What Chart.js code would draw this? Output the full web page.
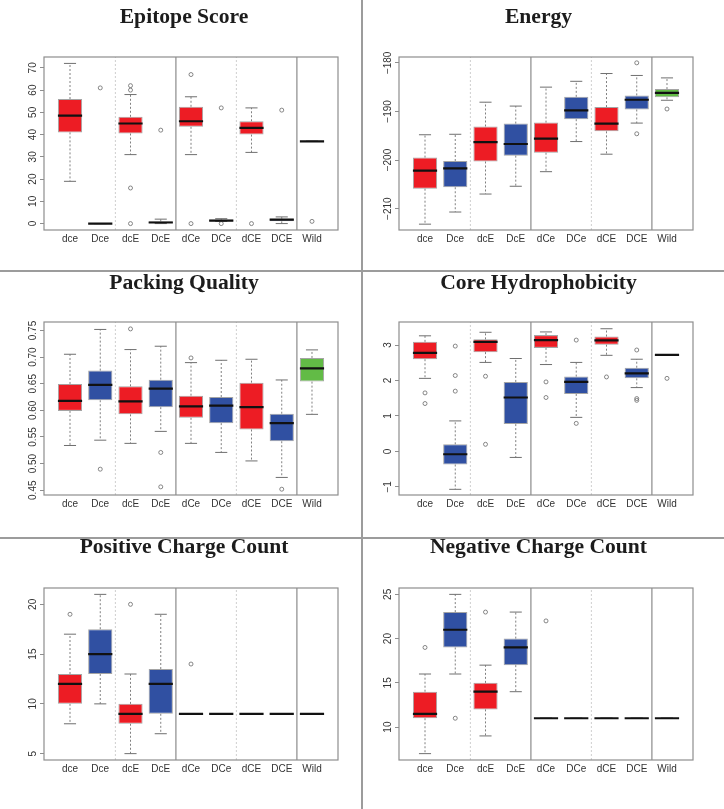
<!DOCTYPE html>
<html><head><meta charset="utf-8">
<script src="https://cdn.jsdelivr.net/npm/chart.js@4"></script>
<style>
html,body{margin:0;padding:0;background:#fff;}
#wrap{position:relative;width:724px;height:809px;overflow:hidden;background:#fff;}
.panel{position:absolute;}
.sep{position:absolute;background:#9c9c9c;}
</style></head><body>
<div id="wrap">
  <div class="panel" style="left:0;top:0;width:362px;height:270px"><canvas id="c1"></canvas></div>
  <div class="panel" style="left:362px;top:0;width:362px;height:270px"><canvas id="c2"></canvas></div>
  <div class="panel" style="left:0;top:271px;width:362px;height:266px"><canvas id="c3"></canvas></div>
  <div class="panel" style="left:362px;top:271px;width:362px;height:266px"><canvas id="c4"></canvas></div>
  <div class="panel" style="left:0;top:538px;width:362px;height:271px"><canvas id="c5"></canvas></div>
  <div class="panel" style="left:362px;top:538px;width:362px;height:271px"><canvas id="c6"></canvas></div>
  <div class="sep" style="left:361px;top:0;width:1.5px;height:809px"></div>
  <div class="sep" style="left:0;top:270px;width:724px;height:1.5px"></div>
  <div class="sep" style="left:0;top:537px;width:724px;height:1.5px"></div>
</div>
<script>
// ---------------- data ----------------
const categories = ['dce', 'Dce', 'dcE', 'DcE', 'dCe', 'DCe', 'dCE', 'DCE', 'Wild'];

const epitopeLow     = [19, 0, 31, 0, 31, 1, 32, 0, 37];
const epitopeQ1      = [41, 0, 40.5, 0, 43.5, 1, 40, 1, 37];
const epitopeMedian  = [48.5, 0, 45, 0.5, 46, 1.3, 43, 1.8, 37];
const epitopeQ3      = [56, 0, 48, 1, 52.5, 1.8, 46, 2.2, 37];
const epitopeHigh    = [72, 0, 58, 2, 57, 2.2, 52, 3, 37];
const epitopeOutliers = [[], [61], [62, 60, 16, 0], [42], [67, 0], [52, 0], [0], [51], [1]];
const epitopeTicks   = [0, 10, 20, 30, 40, 50, 60, 70];

const energyLow      = [-213.2, -210.7, -207.0, -205.4, -202.4, -196.2, -198.8, -192.4, -187.7];
const energyQ1       = [-205.9, -205.6, -200.3, -199.1, -198.5, -191.6, -194.1, -189.6, -187.1];
const energyMedian   = [-202.2, -201.7, -196.3, -196.7, -195.6, -189.8, -192.5, -187.6, -186.2];
const energyQ3       = [-199.5, -200.2, -193.1, -192.5, -192.3, -187.0, -189.1, -186.7, -185.4];
const energyHigh     = [-194.8, -194.7, -188.1, -188.9, -185.0, -183.8, -182.2, -182.6, -183.1];
const energyOutliers = [[], [], [], [], [], [], [], [-180.0, -194.6], [-189.5]];
const energyTicks    = [-210, -200, -190, -180];

const packingLow     = [0.534, 0.544, 0.538, 0.5605, 0.538, 0.521, 0.505, 0.474, 0.5925];
const packingQ1      = [0.599, 0.619, 0.5925, 0.606, 0.586, 0.576, 0.564, 0.542, 0.654];
const packingMedian  = [0.618, 0.648, 0.617, 0.641, 0.6075, 0.609, 0.606, 0.576, 0.679];
const packingQ3      = [0.6496, 0.6747, 0.6452, 0.6577, 0.6276, 0.6251, 0.6521, 0.5937, 0.6985];
const packingHigh    = [0.7054, 0.752, 0.7142, 0.7205, 0.6897, 0.6941, 0.696, 0.6571, 0.7136];
const packingOutliers = [[], [0.4895], [0.753], [0.5209, 0.4563], [0.6985], [], [], [0.4519], []];
const packingTicks   = [0.45, 0.50, 0.55, 0.60, 0.65, 0.70, 0.75];

const coreLow        = [2.06, -1.07, 2.51, -0.17, 2.45, 0.96, 2.71, 1.8, 2.72];
const coreQ1         = [2.6, -0.37, 2.8, 0.77, 2.92, 1.62, 3.01, 2.06, 2.72];
const coreMedian     = [2.78, -0.08, 3.09, 1.52, 3.14, 1.96, 3.13, 2.2, 2.72];
const coreQ3         = [3.09, 0.2, 3.16, 1.96, 3.28, 2.11, 3.24, 2.36, 2.72];
const coreHigh       = [3.26, 0.86, 3.36, 2.62, 3.37, 2.51, 3.46, 2.6, 2.72];
const coreOutliers   = [[1.65, 1.35], [2.97, 2.14, 1.70], [2.12, 0.2], [], [1.96, 1.52], [3.14, 0.79], [2.1], [2.86, 1.49, 1.44], [2.06]];
const coreTicks      = [-1, 0, 1, 2, 3];

const positiveLow    = [8, 10, 5, 7, 9, 9, 9, 9, 9];
const positiveQ1     = [10, 13, 8, 9, 9, 9, 9, 9, 9];
const positiveMedian = [12, 15, 9, 12, 9, 9, 9, 9, 9];
const positiveQ3     = [13, 17.5, 10, 13.5, 9, 9, 9, 9, 9];
const positiveHigh   = [17, 21, 13, 19, 9, 9, 9, 9, 9];
const positiveOutliers = [[19], [], [20], [], [14], [], [], [], []];
const positiveTicks  = [5, 10, 15, 20];

const negativeLow    = [7, 16, 9, 14, 11, 11, 11, 11, 11];
const negativeQ1     = [11, 19, 12, 17, 11, 11, 11, 11, 11];
const negativeMedian = [11.5, 21, 14, 19, 11, 11, 11, 11, 11];
const negativeQ3     = [14, 23, 15, 20, 11, 11, 11, 11, 11];
const negativeHigh   = [16, 25, 17, 23, 11, 11, 11, 11, 11];
const negativeOutliers = [[19], [11], [23], [], [22], [], [], [], []];
const negativeTicks  = [10, 15, 20, 25];

// ---------------- styling ----------------
const RED = '#ED1C24', BLUE = '#3050A2', GREEN = '#62BB46';
const boxColors = [RED, BLUE, RED, BLUE, RED, BLUE, RED, BLUE, GREEN];
const TICK_FAMILY = "'Liberation Sans Narrow','Arial Narrow','Liberation Sans',Arial,sans-serif";
const TICK_SIZE = 10;
const TITLE_FONT = { family: "'Liberation Serif','Times New Roman',serif", size: 21.6, weight: 'bold', lineHeight: 1 };

const mctx = document.createElement('canvas').getContext('2d');
function widestOf(labels) {
  mctx.font = 'normal ' + TICK_SIZE + 'px ' + TICK_FAMILY;
  return Math.max(...labels.map(l => mctx.measureText(l).width));
}
const fmtInt = v => String(v).replace('-', '\u2212');
const fmt2 = v => v.toFixed(2);

const framePlugin = {
  id: 'frame',
  afterDraw(chart) {
    const a = chart.chartArea, c = chart.ctx;
    c.save();
    c.strokeStyle = '#8e8e8e';
    c.lineWidth = 1.2;
    c.strokeRect(a.left, a.top, a.right - a.left, a.bottom - a.top);
    c.restore();
  }
};

function seg(list) { // list of [[x,y],[x,y]] pairs -> line data with gaps
  const out = [];
  list.forEach(p => { out.push({x: p[0][0], y: p[0][1]}, {x: p[1][0], y: p[1][1]}, {x: p[1][0], y: null}); });
  return out;
}

function makeChart(id, p) {
  const xs = categories.map((c, i) => i + 1);
  const whiskers = [], caps = [], medians = [], outs = [];
  xs.forEach((x, i) => {
    whiskers.push([[x, p.q3[i]], [x, p.high[i]]], [[x, p.q1[i]], [x, p.low[i]]]);
    caps.push([[x - 0.2, p.high[i]], [x + 0.2, p.high[i]]], [[x - 0.2, p.low[i]], [x + 0.2, p.low[i]]]);
    medians.push([[x - 0.4, p.median[i]], [x + 0.4, p.median[i]]]);
    p.outliers[i].forEach(v => outs.push({x: x, y: v}));
  });
  const labels = p.ticks.map(p.fmt);
  const ypad = 10.5 - 4 - widestOf(labels) / 2;
  const lightSep = seg([[[2.5, p.yMin], [2.5, p.yMax]], [[6.5, p.yMin], [6.5, p.yMax]]]);
  const darkSep = seg([[[4.5, p.yMin], [4.5, p.yMax]], [[8.5, p.yMin], [8.5, p.yMax]]]);
  const lineDs = (data, color, width, dash, order) => ({
    type: 'line', data, borderColor: color, borderWidth: width, borderDash: dash,
    pointRadius: 0, fill: false, spanGaps: false, tension: 0, order, borderCapStyle: 'butt'
  });
  return new Chart(document.getElementById(id), {
    type: 'bar',
    data: {
      datasets: [
        lineDs(seg(medians), '#111', 2.2, [], 0),
        { type: 'scatter', data: outs, pointStyle: 'circle', pointRadius: 2, borderColor: '#6a6a6a',
          backgroundColor: 'rgba(0,0,0,0)', pointBorderWidth: 0.8, borderWidth: 0.8, order: 1 },
        lineDs(seg(caps), '#6f6f6f', 1, [], 2),
        lineDs(seg(whiskers), '#808080', 1, [2, 2], 3),
        { type: 'bar', data: xs.map((x, i) => ({x: x, y: [p.q1[i], p.q3[i]]})),
          backgroundColor: boxColors, borderColor: 'rgba(90,90,90,0.55)', borderWidth: 1,
          borderSkipped: false, categoryPercentage: 1, barPercentage: 0.8, order: 4 },
        lineDs(darkSep, '#a8a8a8', 1.6, [], 5),
        lineDs(lightSep, '#cfcfcf', 1, [2, 2], 6)
      ]
    },
    options: {
      responsive: true, maintainAspectRatio: false, animation: false, events: [],
      layout: { padding: { left: p.leftPad, right: p.rightPad, top: 0, bottom: 0 } },
      plugins: {
        legend: { display: false }, tooltip: { enabled: false },
        title: { display: true, text: p.title, color: '#1c1c1c', font: TITLE_FONT,
                 padding: { top: p.titleTop, bottom: p.titleBottom } }
      },
      scales: {
        x: {
          type: 'linear', min: 0.14, max: 9.86, offset: false,
          afterBuildTicks: s => { s.ticks = xs.map(v => ({value: v})); },
          afterFit: s => { s.height = p.xHeight; },
          ticks: { autoSkip: false, maxRotation: 0, minRotation: 0, padding: 3.5, color: '#333',
                   font: { family: TICK_FAMILY, size: TICK_SIZE },
                   callback: v => categories[v - 1] },
          grid: { display: false, drawTicks: false },
          border: { display: false }
        },
        y: {
          type: 'linear', min: p.yMin, max: p.yMax,
          afterBuildTicks: s => { s.ticks = p.ticks.map(v => ({value: v})); },
          afterFit: s => {
            s.width = p.yWidth;
            // the tick labels sit in the layout padding: do not clip them to the narrow scale box
            s._computeLabelArea = () => undefined;
          },
          ticks: { autoSkip: false, minRotation: 90, maxRotation: 90, crossAlign: 'center',
                   padding: ypad, color: '#333', font: { family: TICK_FAMILY, size: TICK_SIZE },
                   callback: v => p.fmt(v) },
          grid: { display: true, drawOnChartArea: false, drawTicks: true, tickLength: 4,
                  color: '#8e8e8e', lineWidth: 1 },
          border: { display: false }
        }
      }
    },
    plugins: [framePlugin]
  });
}

// plot area: left column 44..338, right column 399..693 (canvas-relative 37..331)
const LEFT = { leftPad: 30, yWidth: 14, rightPad: 24 };
const RIGHT = { leftPad: 22, yWidth: 15, rightPad: 31 };
const ROW1 = { titleTop: 7, titleBottom: 28.4, xHeight: 40 };
const ROW2 = { titleTop: 1.5, titleBottom: 27.9, xHeight: 42 };
const ROW3 = { titleTop: -1, titleBottom: 29.4, xHeight: 49 };

makeChart('c1', Object.assign({ title: 'Epitope Score', low: epitopeLow, q1: epitopeQ1, median: epitopeMedian,
  q3: epitopeQ3, high: epitopeHigh, outliers: epitopeOutliers, ticks: epitopeTicks, fmt: fmtInt,
  yMin: -2.88, yMax: 74.88 }, LEFT, ROW1));
makeChart('c2', Object.assign({ title: 'Energy', low: energyLow, q1: energyQ1, median: energyMedian,
  q3: energyQ3, high: energyHigh, outliers: energyOutliers, ticks: energyTicks, fmt: fmtInt,
  yMin: -214.4, yMax: -178.8 }, RIGHT, ROW1));
makeChart('c3', Object.assign({ title: 'Packing Quality', low: packingLow, q1: packingQ1, median: packingMedian,
  q3: packingQ3, high: packingHigh, outliers: packingOutliers, ticks: packingTicks, fmt: fmt2,
  yMin: 0.441, yMax: 0.766 }, LEFT, ROW2));
makeChart('c4', Object.assign({ title: 'Core Hydrophobicity', low: coreLow, q1: coreQ1, median: coreMedian,
  q3: coreQ3, high: coreHigh, outliers: coreOutliers, ticks: coreTicks, fmt: fmtInt,
  yMin: -1.23, yMax: 3.65 }, RIGHT, ROW2));
makeChart('c5', Object.assign({ title: 'Positive Charge Count', low: positiveLow, q1: positiveQ1, median: positiveMedian,
  q3: positiveQ3, high: positiveHigh, outliers: positiveOutliers, ticks: positiveTicks, fmt: fmtInt,
  yMin: 4.36, yMax: 21.64 }, LEFT, ROW3));
makeChart('c6', Object.assign({ title: 'Negative Charge Count', low: negativeLow, q1: negativeQ1, median: negativeMedian,
  q3: negativeQ3, high: negativeHigh, outliers: negativeOutliers, ticks: negativeTicks, fmt: fmtInt,
  yMin: 6.28, yMax: 25.72 }, RIGHT, ROW3));
</script>
</body></html>
